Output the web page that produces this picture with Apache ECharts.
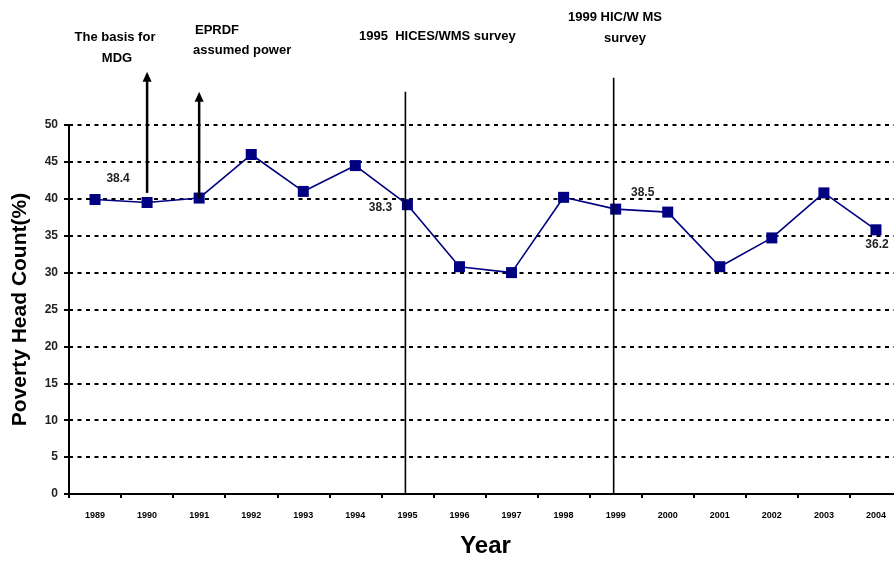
<!DOCTYPE html>
<html>
<head>
<meta charset="utf-8">
<script src="https://cdn.jsdelivr.net/npm/echarts@6/dist/echarts.min.js"></script>
<style>html,body{margin:0;padding:0;background:#fff}#c{width:894px;height:561px}</style>
</head>
<body>
<div id="c"></div>
<script>
// ---- data ----
var years = ['1989','1990','1991','1992','1993','1994','1995','1996','1997','1998','1999','2000','2001','2002','2003','2004'];
var headCount = [39.9, 39.5, 40.1, 46.0, 41.0, 44.5, 39.2, 30.8, 30.0, 40.2, 38.6, 38.2, 30.8, 34.7, 40.8, 35.8];
var yTicks = [0, 5, 10, 15, 20, 25, 30, 35, 40, 45, 50];
var labelYears = ['1990', '1995', '1999', '2004'];
var labelTexts = ['38.4', '38.3', '38.5', '36.2'];
// event marker lines: year, from value, to value, arrow?
var markerYears = ['1990', '1991', '1995', '1999'];
var markerFrom = [40.8, 40.1, 0, 0];
var markerTo = [57.2, 54.5, 54.5, 56.4];
var markerArrow = [1, 1, 0, 0];

// ---- presentation ----
var FONT = 'Liberation Sans, Arial, sans-serif';
var labelOffsets = { '1990': [-29, -24], '1995': [-27, 3], '1999': [27, -16], '2004': [1, 15] };

var seriesData = headCount.map(function (v, i) {
  var k = labelYears.indexOf(years[i]);
  if (k < 0) return v;
  return {
    value: v,
    label: {
      show: true, position: 'inside', formatter: labelTexts[k],
      offset: labelOffsets[years[i]], color: '#222', fontSize: 12, fontWeight: 'bold', fontFamily: FONT
    }
  };
});

var markerData = markerYears.map(function (y, i) { return [y, markerFrom[i], markerTo[i], markerArrow[i]]; });

function txt(t, x, y, align) {
  return { type: 'text', style: { text: t, x: x, y: y, align: align, verticalAlign: 'middle', font: 'bold 13px ' + FONT, fill: '#000' } };
}

var chart = echarts.init(document.getElementById('c'), null, { renderer: 'canvas' });
chart.setOption({
  animation: false,
  backgroundColor: '#fff',
  grid: { left: 69, right: -8, top: 125, bottom: 67, containLabel: false, outerBoundsMode: 'none' },
  xAxis: {
    type: 'category', data: years, boundaryGap: true,
    name: 'Year', nameLocation: 'middle', nameGap: 40,
    nameTextStyle: { fontSize: 24, fontWeight: 'bold', color: '#000', fontFamily: FONT },
    axisLine: { lineStyle: { color: '#000', width: 2 } },
    axisTick: { show: true, length: 4, lineStyle: { color: '#000', width: 2 } },
    axisLabel: { interval: 0, margin: 17, fontSize: 9, fontWeight: 'bold', color: '#000', fontFamily: FONT },
    splitLine: { show: false }
  },
  yAxis: {
    type: 'value', min: yTicks[0], max: yTicks[yTicks.length - 1], interval: yTicks[1] - yTicks[0],
    name: 'Poverty Head Count(%)', nameLocation: 'middle', nameGap: 38,
    nameTextStyle: { fontSize: 21, fontWeight: 'bold', color: '#000', fontFamily: FONT },
    axisLine: { show: true, lineStyle: { color: '#000', width: 2 } },
    axisTick: { show: true, length: 5, lineStyle: { color: '#000', width: 2 } },
    axisLabel: { margin: 11, fontSize: 12, fontWeight: 'bold', color: '#222', fontFamily: FONT },
    splitLine: { show: true, lineStyle: { color: '#000', width: 1.8, type: [4, 4.5] } }
  },
  series: [
    {
      type: 'line', data: seriesData, z: 2,
      symbol: 'rect', symbolSize: 11,
      lineStyle: { color: '#000080', width: 1.6 },
      itemStyle: { color: '#000080' }
    },
    {
      type: 'custom', data: markerData, z: 3, clip: false,
      encode: { x: 0, y: [1, 2] },
      renderItem: function (params, api) {
        var x = api.value(0);
        var p0 = api.coord([x, api.value(1)]);
        var p1 = api.coord([x, api.value(2)]);
        var arrow = api.value(3) === 1;
        var px = arrow ? p0[0] : p0[0] - 2;
        var children = [{
          type: 'line',
          shape: { x1: px, y1: p0[1], x2: px, y2: p1[1] + (arrow ? 6 : 0) },
          style: { stroke: '#000', lineWidth: arrow ? 2.5 : 1.6 }
        }];
        if (arrow) {
          children.push({
            type: 'polygon',
            shape: { points: [[px, p1[1]], [px - 4.5, p1[1] + 10], [px + 4.5, p1[1] + 10]] },
            style: { fill: '#000' }
          });
        }
        return { type: 'group', children: children };
      }
    }
  ],
  graphic: [
    txt('The basis for', 115, 37, 'center'),
    txt('MDG', 117, 58, 'center'),
    txt('EPRDF', 195, 30, 'left'),
    txt('assumed power', 193, 50, 'left'),
    txt('1995  HICES/WMS survey', 359, 36, 'left'),
    txt('1999 HIC/W MS', 615, 17, 'center'),
    txt('survey', 625, 38, 'center')
  ]
});
</script>
</body>
</html>
